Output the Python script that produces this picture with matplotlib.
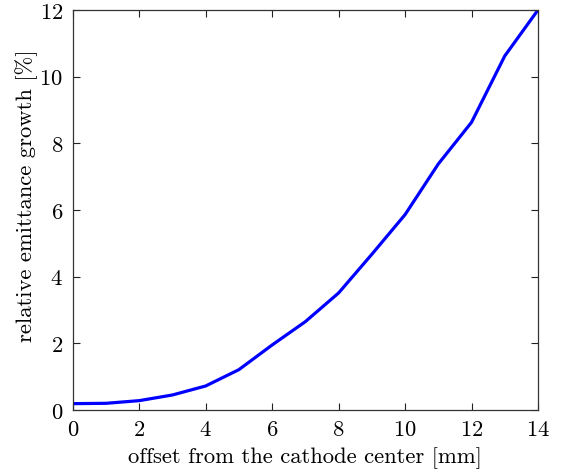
import matplotlib
matplotlib.use("Agg")
import matplotlib.pyplot as plt

offset_mm = [0, 1, 2, 3, 4, 5, 6, 7, 8, 9, 10, 11, 12, 13, 14]
emittance_growth = [0.19, 0.2, 0.28, 0.45, 0.72, 1.21, 1.95, 2.65, 3.51, 4.67, 5.86, 7.38, 8.63, 10.62, 12.0]
x_ticks = [0, 2, 4, 6, 8, 10, 12, 14]
y_ticks = [0, 2, 4, 6, 8, 10, 12]

plt.rcParams['font.family'] = ['cmr10', 'DejaVu Serif']
plt.rcParams['mathtext.fontset'] = 'cm'
plt.rcParams['axes.formatter.use_mathtext'] = True
plt.rcParams['axes.unicode_minus'] = False

fig = plt.figure(figsize=(5.66, 4.77), dpi=100)
ax = fig.add_axes([0.1285, 0.1384, 0.8220, 0.8386])
ax.plot(offset_mm, emittance_growth, color='#0000ff', lw=2.3, solid_joinstyle='round')
ax.set_xlim(0, 14)
ax.set_ylim(0, 12)
ax.set_xticks(x_ticks)
ax.set_yticks(y_ticks)
ax.tick_params(direction='in', top=True, right=True, length=5, width=0.8,
               labelsize=16.3, colors='#222222', labelcolor='black', pad=7)
for s in ax.spines.values():
    s.set_color('#333333')
    s.set_linewidth(0.9)
ax.set_xlabel('offset from the cathode center [mm]', fontsize=16.3, labelpad=5)
ax.set_ylabel('relative emittance growth [%]', fontsize=16.3)
ax.yaxis.set_label_coords(-0.075, 0.5375)
fig.savefig('out.png', dpi=100)
